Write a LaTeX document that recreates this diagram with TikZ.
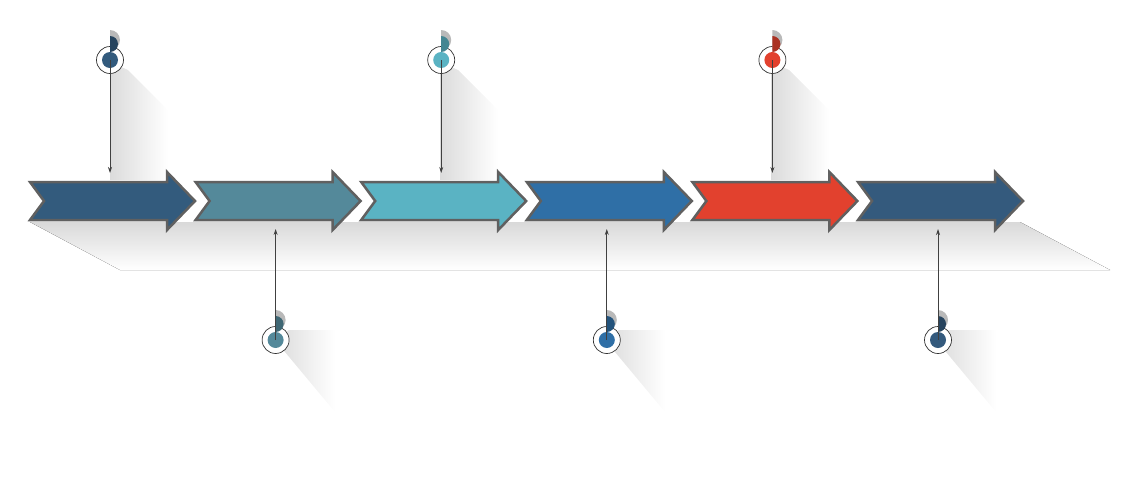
\documentclass[tikz,border=0pt]{standalone}
\usetikzlibrary{arrows.meta}
\definecolor{cA}{HTML}{335B7D}
\definecolor{cB}{HTML}{54899A}
\definecolor{cC}{HTML}{5AB3C3}
\definecolor{cD}{HTML}{2F6FA6}
\definecolor{cE}{HTML}{E2412E}
\definecolor{cF}{HTML}{345A7D}
\tikzset{
  chev/.style={draw=gray!75!black, line width=2.5pt, line join=miter},
  pinline/.style={draw=black!75, line width=0.8pt, -{Stealth[length=6pt,width=4pt]}},
  pinring/.style={circle, draw=black!80, line width=0.7pt, fill=white, minimum size=27pt, inner sep=0},
  pinshade/.style={left color=gray!28, right color=white, draw=none}
}
\begin{document}
\begin{tikzpicture}[x=1pt,y=-1pt]
\useasboundingbox (0,0) rectangle (1135,480);
% shadow under the arrows
\fill[top color=gray!30, bottom color=white] (30,222) -- (1020,222) -- (1110,270) -- (120,270) -- cycle;
% pin shadows
\foreach \px in {110,440,771}
  \shade[pinshade] (\px,62) -- (\px+18,70) -- (\px+58,110) -- (\px+58,180) -- (\px,180) -- cycle;
\foreach \px in {275,605,936}
  \shade[pinshade] (\px,340) -- (\px+14,330) -- (\px+60,330) -- (\px+60,412) -- cycle;
% the arrows
\foreach \n/\c [count=\i from 0] in {a/cA,b/cB,c/cC,d/cD,e/cE,f/cF}{
  \pgfmathsetmacro\x{30+165.6*\i}
  \draw[chev, fill=\c] (\x,182) -- (\x+137,182) -- (\x+137,172) -- (\x+165,201)
     -- (\x+137,230) -- (\x+137,220) -- (\x,220) -- (\x+14,201) -- cycle;
  \coordinate (\n top) at (\x+80,173);
  \coordinate (\n bot) at (\x+80,229);
}
% pins
\foreach \n/\c/\py/\e in {a/cA/60/top,b/cB/340/bot,c/cC/60/top,d/cD/340/bot,e/cE/60/top,f/cF/340/bot}{
  \node[pinring] (\n pin) at (\n top |- 0,\py) {};
  \fill[gray!55] (\n pin.center) ++(0,-10) arc[start angle=90,end angle=-90,radius=10] -- cycle;
  \fill[\c] (\n pin.center) circle[radius=8];
  \fill[\c!75!black] (\n pin.center) ++(0,-8) arc[start angle=90,end angle=-90,radius=8] -- cycle;
  \draw[pinline] (\n pin.center) -- (\n \e);
}
\end{tikzpicture}
\end{document}
